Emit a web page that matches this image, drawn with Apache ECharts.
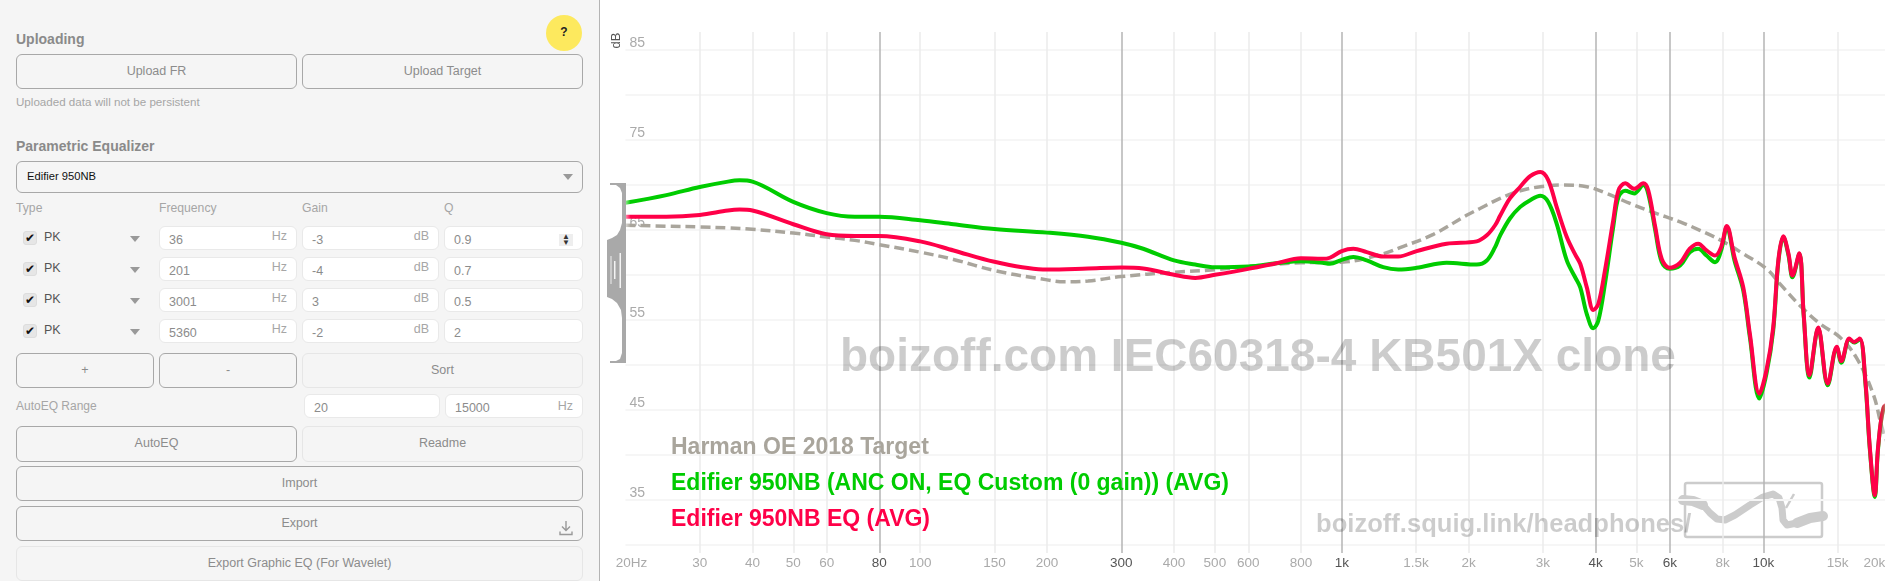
<!DOCTYPE html>
<html>
<head>
<meta charset="utf-8">
<title>Edifier 950NB frequency response</title>
<script src="https://cdn.jsdelivr.net/npm/echarts@6/dist/echarts.min.js"></script>
<style>
html,body{margin:0;padding:0;width:1885px;height:581px;overflow:hidden;background:#fff;font-family:"Liberation Sans",Arial,sans-serif}
#chart{position:absolute;left:0;top:0;width:1885px;height:581px}
#panel{position:absolute;left:0;top:0;width:599px;height:581px;background:#f5f5f5;border-right:1.5px solid #b4b4b4;overflow:hidden}
#panel div{position:absolute;box-sizing:border-box}
.h{font-weight:bold;font-size:14px;color:#8a8a8a;white-space:nowrap}
.t{font-size:12.2px;color:#a6a6a6;white-space:nowrap}
.b{border:1.5px solid #a8a8a8;border-radius:6px;color:#8c8c8c;font-size:12.5px;text-align:center}
.d{border-color:#e6e6e6}
.i{background:#fff;border:1px solid #e9e9e9;border-radius:6px;color:#8c8c8c;font-size:12.5px;padding-left:9px;line-height:26px}
.u{font-size:12.5px;color:#a6a6a6;top:2px;line-height:14px;right:9px}
.c{left:23px;width:14px;height:14px;background:#e6e6e6;border-radius:3px;border:1px solid #ddd;color:#111;font-size:12px;line-height:13px;text-align:center}
.p{left:44px;font-size:12.5px;color:#555}
.a{left:130px;width:0;height:0;border-left:5px solid transparent;border-right:5px solid transparent;border-top:6px solid #999}
</style>
</head>
<body>
<div id="chart"></div>
<div id="panel"></div>
<script>
// ---- chart data ----
const freqHz = [20,25,30,35,37.3,40,50,60,70,80,100,120,150,200,250,300,338,400,449,500,600,700,800,900,937,1000,1065,1146,1254,1361,1505,1773,2089,2208,2310,2374,2505,2650,2798,2958,3086,3233,3417,3577,3678,3812,3951,4059,4209,4404,4534,4700,4940,5190,5330,5540,5740,5990,6345,6690,7005,7330,7680,7940,8190,8540,8960,9290,9780,10170,10550,10850,11150,11470,11720,12170,12460,12860,13490,14210,14930,15310,15990,16410,16930,17450,17880,18380,18710,19300,20000];
const ancOnDb = [67.94,68.8,69.7,70.3,70.44,70.3,68.05,66.8,66.4,66.4,66.0,65.56,65.03,64.63,64.18,63.51,62.84,61.54,61.09,60.79,60.87,61.23,61.46,61.28,61.17,61.61,61.91,61.54,60.79,60.53,60.72,61.28,61.09,61.54,63.02,64.3,66.2,67.49,68.24,68.72,68.05,65.64,61.54,59.67,58.55,55.58,54.0,54.83,58.93,65.26,68.61,69.28,68.99,69.92,68.99,64.89,61.35,60.61,60.98,62.46,62.84,62.09,61.35,62.65,65.26,61.54,58.18,52.97,46.19,48.97,53.72,61.35,64.14,62.09,59.67,62.28,55.5,48.52,54.0,47.67,51.85,50.18,52.79,52.41,52.79,48.03,40.64,35.26,40.64,45.19,45.51];
const eqDb = [66.4,66.4,66.6,67.1,67.2,67.09,65.56,64.44,64.25,64.25,63.66,62.65,61.39,60.53,60.64,60.75,60.64,59.94,59.6,59.94,60.6,61.23,61.79,61.72,61.84,62.58,62.84,62.46,61.98,61.98,62.58,63.4,63.66,64.33,65.45,66.5,68.43,69.73,70.9,71.37,70.5,67.49,64.14,62.21,61.17,58.55,56.03,56.7,60.42,66.0,69.36,70.11,69.5,70.11,69.36,65.26,61.72,60.72,61.28,62.84,63.4,62.65,62.09,63.02,65.37,61.91,58.55,53.35,46.74,49.34,54.08,61.54,64.22,62.28,59.86,62.35,55.58,48.78,54.08,47.86,51.96,50.36,52.86,52.49,52.86,48.22,40.82,35.45,40.82,45.26,45.6];
const targetFreqHz = [20,25,30,35,40,50,60,70,80,100,120,150,200,220,250,300,400,500,600,800,1000,1254,1374,1649,1977,2127,2374,2650,2958,3352,3812,4246,4826,5485,6345,7069,7872,8960,10170,10950,12220,13660,15210,16620,18200,19100,20000];
const targetDb = [65.45,65.34,65.26,65.15,65.0,64.59,64.14,63.77,63.29,62.46,61.65,60.42,59.38,59.16,59.25,59.75,60.23,60.5,60.87,61.28,61.35,62.28,62.96,64.44,66.56,67.31,68.43,69.28,69.73,69.92,69.73,68.99,67.87,66.87,65.82,64.89,63.85,62.28,60.61,58.93,56.51,54.46,52.97,50.73,46.74,43.03,40.34];
const xMinorTicks = [30,40,50,60,100,150,200,400,500,600,800,1500,2000,3000,5000,8000,15000];
const xMajorTicks = [80,300,1000,4000,6000,10000];
const yLabelValues = [35,45,55,65,75,85];
const yGridValues = [30,35,40,45,50,55,60,65,70,75,80,85];
const legendLabels = ['Harman OE 2018 Target','Edifier 950NB (ANC ON, EQ Custom (0 gain)) (AVG)','Edifier 950NB EQ (AVG)'];
const watermarkMain = 'boizoff.com IEC60318-4 KB501X clone';
const watermarkSite = 'boizoff.squig.link/headphones/';

const GREEN = '#00cc00', RED = '#ff0048', TARGET = '#a9a59c';
const zip = (a, b) => a.map((v, i) => [v, b[i]]);
const tickText = f => f >= 1000 ? (f / 1000) + 'k' : String(f);
const fade = (c, rgb) => ({type:'linear',x:0,y:0,x2:1,y2:0,colorStops:[
  {offset:0,color:`rgba(${rgb},0.15)`},{offset:0.006,color:c},{offset:0.99,color:c},{offset:0.996,color:`rgba(${rgb},0.25)`},{offset:1,color:`rgba(${rgb},0.2)`}]});

const Y_BOTTOM = 29.03, Y_TOP = 86.92;
const vLine = (f, color, width, textColor, offset) => [
  {coord:[f,Y_BOTTOM],lineStyle:{color,width,type:'solid'},label:{show:true,position:'start',distance:3,formatter:(f===20?'20Hz':tickText(f)),color:textColor,fontSize:13.5,fontFamily:'Liberation Sans',offset:offset||[0,0]}},
  {coord:[f,Y_TOP]}
];
const markData = [
  ...yGridValues.map(v => [{coord:[20,v],lineStyle:{color:'#f6f6f6',width:2,type:'solid'},label:{show:false}},{coord:[20000,v]}]),
  vLine(20,'rgba(0,0,0,0)',1,'#aaaaaa',[6,0]),
  ...xMinorTicks.map(f => vLine(f,'#ebebeb',1.5,'#aaaaaa')),
  vLine(20000,'#ebebeb',1.5,'#aaaaaa',[-16,0]),
  ...xMajorTicks.map(f => vLine(f,'#b5b5b5',1.5,'#555555'))
];

const gray = 'rgba(0,0,0,0.2)';
const logoStroke = '#cccccc';
const handleOutline = [[610,183],[626,183],[626,363],[610,363],[610,361],[616,361],[620,359],[622,353],[622,318],[621,310],[617,303],[612,299],[607,297],[607,240],[612,238],[617,235],[620,230],[622,223],[622,193],[620,188],[616,185],[610,185]];
const graphicEls = [
  {type:'text',z:3,x:840,y:358,style:{text:watermarkMain,fill:gray,font:'bold 46px "Liberation Sans"',verticalAlign:'middle'}},
  {type:'text',z:3,x:1316,y:525,style:{text:watermarkSite,fill:gray,font:'bold 25.6px "Liberation Sans"',verticalAlign:'middle'}},
  {type:'text',z:20,x:671,y:448,style:{text:legendLabels[0],fill:TARGET,font:'bold 23px "Liberation Sans"',verticalAlign:'middle'}},
  {type:'text',z:20,x:671,y:484,style:{text:legendLabels[1],fill:GREEN,font:'bold 23px "Liberation Sans"',verticalAlign:'middle'}},
  {type:'text',z:20,x:671,y:520,style:{text:legendLabels[2],fill:RED,font:'bold 23px "Liberation Sans"',verticalAlign:'middle'}},
  {type:'text',z:20,x:616.5,y:40.5,rotation:Math.PI/2,style:{text:'dB',fill:'#555',font:'13px "Liberation Sans"',align:'center',verticalAlign:'middle'}},
  {type:'rect',z:1,shape:{x:1685,y:483,width:137,height:54,r:2},style:{fill:'none',stroke:logoStroke,lineWidth:2.5}},
  {type:'polyline',z:1,shape:{points:[[1683,500],[1693,501],[1703,505],[1710,513],[1717,519],[1725,520],[1735,515],[1750,505],[1763,497],[1773,494],[1779,498],[1782,508],[1783,520],[1787,525],[1797,523],[1810,518],[1823,516]]},style:{fill:'none',stroke:logoStroke,lineWidth:7,lineCap:'round',lineJoin:'round'}},
  {type:'polyline',z:1,shape:{points:[[1683,500],[1693,501],[1703,505]]},style:{fill:'none',stroke:logoStroke,lineWidth:10,lineCap:'round',lineJoin:'round'}},
  {type:'polyline',z:1,shape:{points:[[1797,523],[1810,518],[1823,516]]},style:{fill:'none',stroke:logoStroke,lineWidth:10,lineCap:'round',lineJoin:'round'}},
  {type:'line',z:1,shape:{x1:1794,y1:494,x2:1786,y2:508},style:{stroke:logoStroke,lineWidth:2.5}},
  // graph-resize handle
  {type:'polygon',z:30,shape:{points:handleOutline},style:{fill:'#a9a9a9'}},
  {type:'rect',z:31,shape:{x:610.5,y:256,width:1,height:28},style:{fill:'#eee'}},
  {type:'rect',z:31,shape:{x:614,y:261,width:1.5,height:18},style:{fill:'#f4f4f4'}},
  {type:'rect',z:31,shape:{x:619.5,y:253,width:1.5,height:35},style:{fill:'#f4f4f4'}}
];

const chart = echarts.init(document.getElementById('chart'), null, {renderer:'canvas'});
chart.setOption({
  animation:false,
  backgroundColor:'#ffffff',
  grid:{left:625.5,width:1264.8,top:4.3,height:585,containLabel:false,outerBoundsMode:'none'},
  xAxis:{type:'log',logBase:10,min:20,max:20000,axisLine:{show:false},axisTick:{show:false},axisLabel:{show:false},splitLine:{show:false},minorSplitLine:{show:false}},
  yAxis:{type:'value',min:25,max:90,position:'left',axisLine:{show:false},axisTick:{show:false},splitLine:{show:false},
    axisLabel:{inside:true,margin:4,color:'#aaaaaa',fontSize:14,fontFamily:'Liberation Sans',verticalAlign:'bottom',lineHeight:13,customValues:yLabelValues}},
  graphic:{elements:graphicEls},
  series:[
    {name:legendLabels[0],type:'line',z:5,showSymbol:false,smooth:0.4,clip:false,data:zip(targetFreqHz,targetDb),
     lineStyle:{color:fade(TARGET,'169,165,156'),width:3.5,type:[10,5]},
     markLine:{silent:true,symbol:'none',z:2,animation:false,precision:5,data:markData}},
    {name:legendLabels[1],type:'line',z:6,showSymbol:false,smooth:0.35,data:zip(freqHz,ancOnDb),lineStyle:{color:fade(GREEN,'0,204,0'),width:4}},
    {name:legendLabels[2],type:'line',z:7,showSymbol:false,smooth:0.35,data:zip(freqHz,eqDb),lineStyle:{color:fade(RED,'255,0,72'),width:4}}
  ]
});

// ---- side panel (static controls, plain HTML) ----
const box = (cls, x, y, w, h, txt, extra) => `<div class="${cls}" style="left:${x}px;top:${y}px;${w?`width:${w}px;`:''}${h?`height:${h}px;${cls[0]==='b'?`line-height:${h-3}px;`:''}`:''}${extra||''}">${txt||''}</div>`;
const eqRows = [['36','-3','0.9',226],['201','-4','0.7',257],['3001','3','0.5',288],['5360','-2','2',319]];
let html = '';
html += box('h',16,31,0,0,'Uploading');
html += `<div style="left:546px;top:15px;width:36px;height:36px;border-radius:50%;background:#fde95e;color:#222;font-weight:bold;font-size:12px;text-align:center;line-height:34px">?</div>`;
html += box('b',16,54,281,35,'Upload FR') + box('b',302,54,281,35,'Upload Target');
html += box('t',16,95,0,0,'Uploaded data will not be persistent','font-size:11.6px');
html += box('h',16,138,0,0,'Parametric Equalizer');
html += box('b',16,161,567,32,'<span style="position:absolute;left:10px;color:#111;font-size:11.2px">Edifier 950NB</span><div class="a" style="left:546px;top:12px"></div>');
html += box('t',16,201,0,0,'Type') + box('t',159,201,0,0,'Frequency') + box('t',302,201,0,0,'Gain') + box('t',444,201,0,0,'Q');
eqRows.forEach(r => {
  const y = r[3];
  html += `<div class="c" style="top:${y+5}px">✔</div><div class="p" style="top:${y+4}px">PK</div><div class="a" style="top:${y+10}px"></div>`;
  html += box('i',159,y,138,24,r[0]+'<div class="u">Hz</div>');
  html += box('i',302,y,137,24,r[1]+'<div class="u">dB</div>');
  html += box('i',444,y,139,24,r[2]+(y===226?'<div style="right:9px;top:7px;width:14px;height:12px;background:#eee;color:#333;font-size:8px;line-height:6px;text-align:center">▲<br>▼</div>':''));
});
html += box('b',16,353,138,35,'+') + box('b',159,353,138,35,'-') + box('b d',302,353,281,35,'Sort');
html += box('t',16,399,0,0,'AutoEQ Range','font-size:12px');
html += box('i',304,394,136,24,'20') + box('i',445,394,138,24,'15000<div class="u" style="top:4px">Hz</div>');
html += box('b',16,426,281,36,'AutoEQ') + box('b d',302,426,281,36,'Readme');
html += box('b',16,466,567,35,'Import');
html += box('b',16,506,567,35,'Export<div style="right:9px;top:9px;width:14px;height:16px"><svg width="14" height="16" viewBox="0 0 14 16"><path d="M7 1V10M3 6.5L7 10.5L11 6.5M1 11.5V14.5H13V11.5" fill="none" stroke="#999" stroke-width="1.4"/></svg></div>');
html += box('b d',16,546,567,35,'Export Graphic EQ (For Wavelet)');
document.getElementById('panel').innerHTML = html;
</script>
</body>
</html>
